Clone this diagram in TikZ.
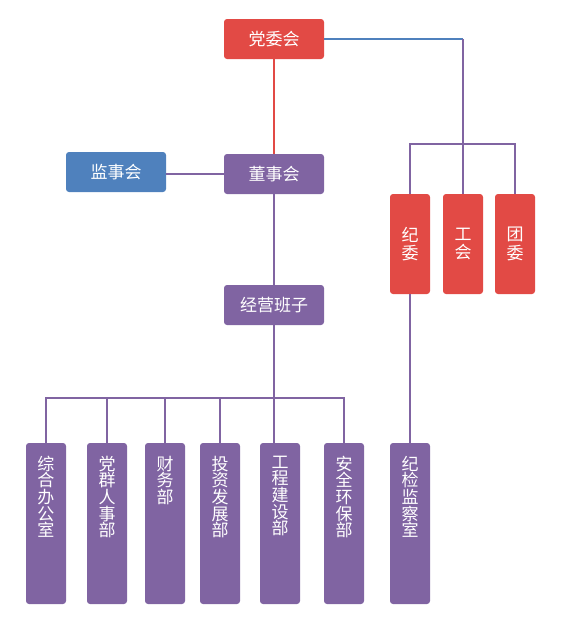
\documentclass[tikz,border=0pt]{standalone}
\usepackage{fontspec}
\setmainfont{Noto Sans CJK SC}
\usepackage{xcolor}
\usepackage{tikz}
\definecolor{partyred}{RGB}{226,74,69}
\definecolor{boardpurple}{RGB}{128,100,162}
\definecolor{supblue}{RGB}{79,129,189}
\newcommand{\vlabel}[1]{\parbox[c][161pt][t]{40pt}{\centering\vspace*{13pt}#1}}

\begin{document}
\begin{tikzpicture}[x=1pt, y=-1pt,
  box/.style={rounded corners=3pt, text=white, minimum width=100pt, minimum height=40pt, inner sep=0pt, font=\fontsize{17}{18}\selectfont},
  redcol/.style={rounded corners=3pt, fill=partyred, text=white, minimum width=40pt, minimum height=100pt, inner sep=0pt, align=center, font=\fontsize{17}{18.5}\selectfont},
  dept/.style={rounded corners=3pt, fill=boardpurple, text=white, inner sep=0pt, font=\fontsize{17}{16.6}\selectfont},
  link/.style={boardpurple, line width=1.6pt}]
  \useasboundingbox (0,0) rectangle (567,633);
  % top levels
  \node[box, fill=partyred] (dangwei) at (274,39) {党委会};
  \node[box, fill=boardpurple] (dongshi) at (274,174) {董事会};
  \node[box, fill=supblue] (jianshi) at (116,172) {监事会};
  \node[box, fill=boardpurple] (jingying) at (274,305) {经营班子};
  % party side
  \node[redcol] (jiwei) at (410,244) {纪\\委};
  \node[redcol] (gonghui) at (463,244) {工\\会};
  \node[redcol] (tuanwei) at (515,244) {团\\委};
  \coordinate (rbar) at (463,144);
  % departments
  \node[dept] (zonghe) at (46,523.5) {\vlabel{综\\合\\办\\公\\室}};
  \node[dept] (renshi) at (107,523.5) {\vlabel{党\\群\\人\\事\\部}};
  \node[dept] (caiwu) at (165,523.5) {\vlabel{财\\务\\部}};
  \node[dept] (touzi) at (220,523.5) {\vlabel{投\\资\\发\\展\\部}};
  \node[dept] (gongcheng) at (280,523.5) {\vlabel{工\\程\\建\\设\\部}};
  \node[dept] (anquan) at (344,523.5) {\vlabel{安\\全\\环\\保\\部}};
  \node[dept] (jijian) at (410,523.5) {\vlabel{纪\\检\\监\\察\\室}};
  \coordinate (bbar) at (274,398);

  \draw[partyred, line width=1.6pt] (dangwei) -- (dongshi);
  \draw[link] (jianshi.east |- dongshi) -- (dongshi.west);
  \draw[link] (dongshi) -- (jingying);
  \draw[supblue, line width=1.6pt] (dangwei.east) -- (dangwei.east -| gonghui);
  \draw[link] (dangwei.east -| gonghui) -- (gonghui.north);
  \draw[link] (jiwei.north) |- (rbar) -| (tuanwei.north);
  \draw[link] (jiwei) -- (jijian);
  \draw[link] (jingying.south) -- (jingying.south |- gongcheng.north);
  \draw[link] (zonghe.north) |- (bbar) -| (anquan.north);
  \draw[link] (renshi.north) -- (renshi.north |- bbar);
  \draw[link] (caiwu.north) -- (caiwu.north |- bbar);
  \draw[link] (touzi.north) -- (touzi.north |- bbar);
\end{tikzpicture}
\end{document}
